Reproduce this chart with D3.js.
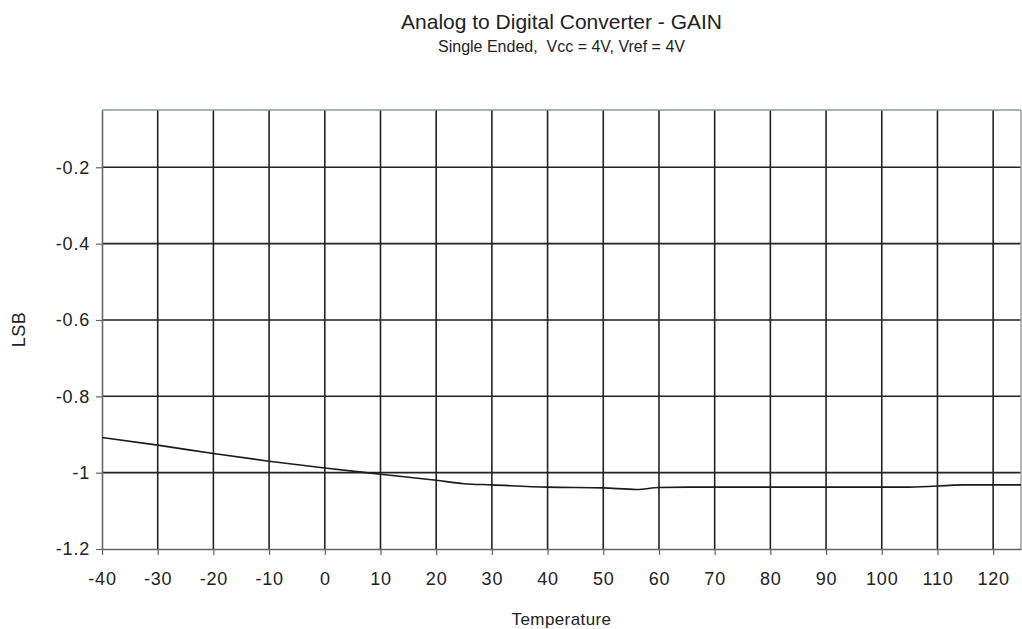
<!DOCTYPE html>
<html>
<head>
<meta charset="utf-8">
<script src="https://cdn.jsdelivr.net/npm/d3@7"></script>
<style>
  body { margin: 0; background: #fff; }
  svg { display: block; font-family: "Liberation Sans", Arial, sans-serif; }
  text { white-space: pre; }
</style>
</head>
<body>
<svg id="chart" width="1022" height="629"></svg>
<script>
const titleText = "Analog to Digital Converter - GAIN";
const subtitleText = "Single Ended,  Vcc = 4V, Vref = 4V";
const xLabel = "Temperature";
const yLabel = "LSB";

const xTicks = [-40, -30, -20, -10, 0, 10, 20, 30, 40, 50, 60, 70, 80, 90, 100, 110, 120];
const yTicks = [-1.2, -1, -0.8, -0.6, -0.4, -0.2];
const xDomain = [-40, 125];
const yDomain = [-1.2, -0.05];

const temps = [-40, -30, -20, -10, 0, 10, 20, 25, 30, 40, 50, 56, 60, 65, 85, 105, 115, 125];
const gain  = [-0.908, -0.928, -0.950, -0.970, -0.988, -1.004, -1.020, -1.029, -1.032, -1.038, -1.040, -1.044, -1.039, -1.038, -1.038, -1.038, -1.032, -1.032];

const margin = { left: 102, right: 1, top: 110, bottom: 80 };
const W = 1022, H = 629;
const svg = d3.select("#chart");

const x = d3.scaleLinear().domain(xDomain).range([margin.left, W - margin.right]);
const y = d3.scaleLinear().domain(yDomain).range([H - margin.bottom, margin.top]);

const fmt = d => String(+d.toFixed(1)).replace("\u2212", "-");

// grid
const g = svg.append("g");
g.selectAll(".vg").data(xTicks.filter(d => d !== -40)).enter().append("line")
  .attr("x1", d => x(d)).attr("x2", d => x(d))
  .attr("y1", y(yDomain[1])).attr("y2", y(yDomain[0]))
  .attr("stroke", "#222").attr("stroke-width", 1.6);
g.selectAll(".hg").data(yTicks.filter(d => d !== -1.2)).enter().append("line")
  .attr("x1", x(xDomain[0])).attr("x2", x(xDomain[1]))
  .attr("y1", d => y(d)).attr("y2", d => y(d))
  .attr("stroke", "#222").attr("stroke-width", 1.6);

// frame (top/right)
svg.append("line").attr("x1", x(xDomain[0])).attr("x2", x(xDomain[1]))
  .attr("y1", y(yDomain[1])).attr("y2", y(yDomain[1]))
  .attr("stroke", "#8c98a4").attr("stroke-width", 1.6);
svg.append("line").attr("x1", x(xDomain[1])).attr("x2", x(xDomain[1]))
  .attr("y1", y(yDomain[1])).attr("y2", y(yDomain[0]))
  .attr("stroke", "#999").attr("stroke-width", 1.4);

// axes
const xAxis = d3.axisBottom(x).tickValues(xTicks).tickSize(6).tickSizeOuter(0).tickPadding(17)
  .tickFormat(fmt);
const gx = svg.append("g").attr("transform", `translate(0,${y(yDomain[0])})`).call(xAxis);
gx.select(".domain").attr("stroke", "#666").attr("stroke-width", 1.6);
gx.selectAll(".tick line").attr("stroke", "#666").attr("stroke-width", 1.2);
gx.selectAll("text").attr("font-size", 18).attr("letter-spacing", 0.8).attr("fill", "#222")
  .attr("font-family", "Liberation Sans, Arial, sans-serif");

const yAxis = d3.axisLeft(y).tickValues(yTicks).tickSize(6).tickSizeOuter(0).tickPadding(6)
  .tickFormat(fmt);
const gy = svg.append("g").attr("transform", `translate(${x(xDomain[0])},0)`).call(yAxis);
gy.select(".domain").attr("stroke", "#666").attr("stroke-width", 1.6);
gy.selectAll(".tick line").attr("stroke", "#666").attr("stroke-width", 1.2);
gy.selectAll("text").attr("font-size", 18).attr("letter-spacing", 0.8).attr("fill", "#222")
  .attr("font-family", "Liberation Sans, Arial, sans-serif");

// data line
const data = temps.map((t, i) => ({ t, v: gain[i] }));
svg.append("path").datum(data)
  .attr("fill", "none").attr("stroke", "#1a1a1a").attr("stroke-width", 1.6)
  .attr("d", d3.line().x(d => x(d.t)).y(d => y(d.v)).curve(d3.curveMonotoneX));

// titles
const cx = (x(xDomain[0]) + x(xDomain[1])) / 2;
svg.append("text").attr("x", cx).attr("y", 29).attr("text-anchor", "middle")
  .attr("font-size", 21).attr("fill", "#222").text(titleText);
svg.append("text").attr("x", cx).attr("y", 52).attr("text-anchor", "middle")
  .attr("font-size", 16).attr("fill", "#222").text(subtitleText);
svg.append("text").attr("x", cx).attr("y", 625).attr("text-anchor", "middle")
  .attr("font-size", 17).attr("letter-spacing", 0.4).attr("fill", "#222").text(xLabel);
svg.append("text").attr("transform", `translate(25,${(y(yDomain[0]) + y(yDomain[1])) / 2}) rotate(-90)`)
  .attr("text-anchor", "middle").attr("font-size", 18).attr("letter-spacing", 0.5).attr("fill", "#222").text(yLabel);
</script>
</body>
</html>
